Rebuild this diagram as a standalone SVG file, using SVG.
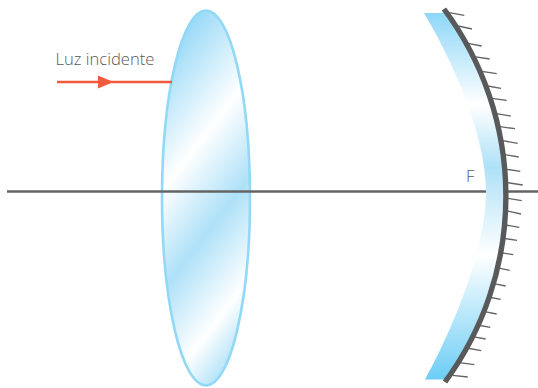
<svg xmlns="http://www.w3.org/2000/svg" width="538" height="388" viewBox="0 0 538 388">
<style>
.label{font-family:"Open Sans","Liberation Sans",sans-serif;font-weight:300;font-size:16.6px;fill:#58595b}
.tick{stroke:#636466;stroke-width:1.3;fill:none}
</style>
<defs>
<linearGradient id="lensFill" gradientUnits="userSpaceOnUse" x1="110" y1="124" x2="307" y2="276">
<stop offset="0" stop-color="#97d9f7"/>
<stop offset="0.33" stop-color="#ffffff"/>
<stop offset="0.576" stop-color="#aee1f8"/>
<stop offset="0.824" stop-color="#ffffff"/>
<stop offset="1" stop-color="#a5def7"/>
</linearGradient>
<linearGradient id="mirrorFill" gradientUnits="userSpaceOnUse" x1="0" y1="13" x2="0" y2="380">
<stop offset="0" stop-color="#8ed7f8"/>
<stop offset="0.25" stop-color="#ffffff"/>
<stop offset="0.42" stop-color="#aee1f8"/>
<stop offset="0.66" stop-color="#ffffff"/>
<stop offset="1" stop-color="#6ccdf5"/>
</linearGradient>
<marker id="head" markerUnits="userSpaceOnUse" markerWidth="16" markerHeight="14" refX="0" refY="7" orient="auto">
<path d="M0 0.5L15.5 7L0 13.5Z" fill="#f15a3c"/>
</marker>
</defs>
<g id="lens">
<ellipse cx="206" cy="198" rx="44" ry="187.5" fill="url(#lensFill)" stroke="#92d9f7" stroke-width="2.6"/>
</g>
<g id="connectors">
<line x1="7" y1="191.600" x2="538" y2="191.600" stroke="#636466" stroke-width="2.500"/>
<path d="M57 82L98 82L172 82" fill="none" stroke="#f15a3c" stroke-width="2.400" marker-mid="url(#head)"/>
</g>
<g id="mirror">
<path d="M424 13L445 13A314 314 0 0 1 505 196A314 314 0 0 1 445 379.500L425 379.500C452 330 486 250 486 192C486 135 452 60 424 13Z" fill="url(#mirrorFill)"/>
<g class="tick">
<path d="M449.300 12.700L464.300 15.300M458.300 26L472 29M467.700 43.300L481.700 46M474 56.700L489.700 59M481.700 71.300L496.700 73.700M487.700 86L501 88.300M491.700 98.300L506.700 100.300M496 113.700L510.700 116M500 126.700L515 128.700"/>
<path d="M502.700 140.700L517.700 143.300M505 154.700L518.700 157M506.700 169.300L520.300 171.300M507.700 182.700L522.700 185M507.700 198.300L521.700 200.700M506 210.700L521 214M505.300 225L519.300 227.300M503.300 238.300L517 240.300M500 252.700L513.300 254.700"/>
<path d="M496.700 267.700L509.700 270.300M492.300 283.300L505.700 286M488.300 297L500.700 299.300M483.300 311.300L496.700 314M477.300 325L490.300 327.300M472.700 336.700L485.700 339M466.700 348L481.300 350.700M459.300 362.700L474.300 364.700M452.700 375.300L467.700 377"/>
</g>
<path d="M444 9A314 314 0 0 1 445 382" fill="none" stroke="#58595b" stroke-width="5.400"/>
</g>
<g id="label-luz"><text class="label" x="55.500" y="65">Luz incidente</text></g>
<g id="label-f"><text class="label" x="466" y="182.300">F</text></g>
</svg>
